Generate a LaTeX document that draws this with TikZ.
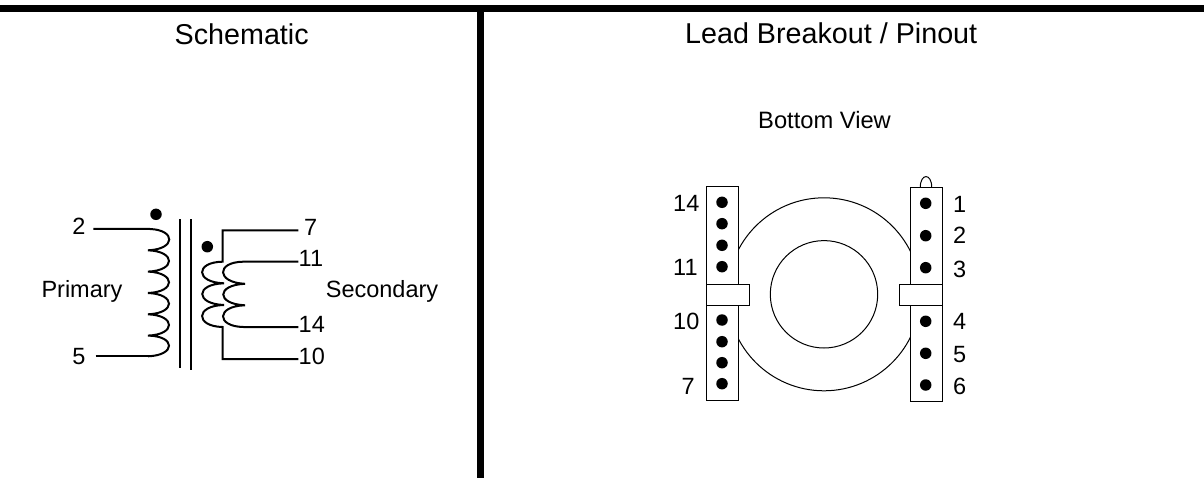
\documentclass[tikz,border=0pt]{standalone}
\usepackage{fontspec}
\setmainfont{Liberation Sans}
\tikzset{
  lbl/.style={inner sep=0pt,font=\fontsize{23.5}{24}\selectfont,text height=16pt,text depth=0pt},
  ttl/.style={inner sep=0pt,anchor=base west,font=\fontsize{28.7}{30}\selectfont},
  wire/.style={line width=2pt},
  thin line/.style={line width=1pt},
  blob/.style={circle,fill=black,draw=none,minimum size=11.5pt,inner sep=0pt},
  strip/.style={draw=black,line width=1pt,fill=white,inner sep=0pt},
}
\begin{document}
\begin{tikzpicture}[x=1pt,y=-1pt]
\useasboundingbox (0,0) rectangle (1204,478);
\fill[white] (0,0) rectangle (1204,478);
% frame
\coordinate (tl) at (0,8.6); \coordinate (tr) at (1204,8.6);
\coordinate (vt) at (480.8,8.6); \coordinate (vb) at (480.8,478);
\draw[line width=7.4pt] (tl) -- (tr);
\draw[line width=7pt] (vt) -- (vb);
% titles
\node[ttl] (t1) at (174.5,45) {Schematic};
\node[ttl] (t2) at (685,43.3) {Lead Breakout / Pinout};
\node[inner sep=0pt,anchor=base west,font=\fontsize{23.7}{24}\selectfont] (t3) at (758,128.3) {Bottom View};
% schematic labels
\node[lbl,anchor=center] (p2) at (79,227) {2};
\node[lbl] (p5) at (79,356) {5};
\node[lbl] (prim) at (82,290) {Primary};
\node[lbl] (sec) at (382,290) {Secondary};
\node[lbl,anchor=west] (s7) at (304,228) {7};
\node[lbl,anchor=west] (s11) at (298.5,258) {11};
\node[lbl,anchor=west] (s14) at (298.5,324) {14};
\node[lbl,anchor=west] (s10) at (298.5,356) {10};
\node[blob] (d1) at (156,214.3) {};
\node[blob] (d2) at (207.3,246.7) {};
% primary
\coordinate (a0) at (93.3,229);
\coordinate (a1) at (95.7,356);
\draw[wire] (a0) -- (150,229)
  \foreach \i/\yy in {0/229,1/250.3,2/271.7,3/293,4/314.3,5/335} {
    .. controls (176,\yy+1) and (176,\yy+20.3) .. (148,\yy+21.3)
  };
\draw[wire] (a1) -- (150,356);
% core
\draw[wire] (180,219.3) -- (180,368.3);
\draw[wire] (191.3,219.3) -- (191.3,370);
% secondary
\coordinate (e7) at (298.3,230.3);
\coordinate (e11) at (298.3,261.7);
\coordinate (e14) at (298.3,327);
\coordinate (e10) at (298.3,359);
\draw[wire] (e7) -- (222.7,230.3) -- (222.7,261.7)
  .. controls (195,262) and (195,282.5) .. (224,283.3)
  .. controls (195,284) and (195,304) .. (224,305)
  .. controls (195,305.5) and (195,326.5) .. (222.7,327)
  -- (222.7,359) -- (e10);
\draw[wire] (e11) -- (243.3,261.7)
  .. controls (216,262) and (216,282.5) .. (245,283.8)
  .. controls (216,285) and (216,304) .. (245,305.3)
  .. controls (216,306) and (216,326.5) .. (243.3,327) -- (e14);
% toroid
\coordinate (c) at (824,294.3);
\draw[thin line] (c) circle[radius=96.5];
\draw[thin line] (c) circle[radius=53.7];
\draw[thin line] (920.3,187.3) .. controls (920.3,173) and (931.7,173) .. (931.7,187.3);
\node[strip,minimum width=32.3pt,minimum height=214.7pt] (ls) at (722.2,293.4) {};
\node[strip,minimum width=32pt,minimum height=214.4pt] (rs) at (926,294.5) {};
\node[strip,minimum width=43pt,minimum height=21.3pt] (lt) at (727.5,294.7) {};
\node[strip,minimum width=43pt,minimum height=21.3pt] (rt) at (920.5,294.7) {};
\foreach \n/\yy in {a/202.3,b/223.7,c/245.3,d/266.7,e/320,f/341.7,g/362.7,h/383.7}
  \node[blob] (l\n) at (722,\yy) {};
\foreach \n/\yy in {a/203.3,b/235.7,c/267.7,d/321.3,e/353.3,f/385}
  \node[blob] (r\n) at (925.7,\yy) {};
\foreach \t/\yy in {14/204,11/268,10/321}
  \node[lbl,anchor=west] (n\t) at (673,\yy) {\t};
\node[lbl,anchor=east] (n7) at (695,386) {7};
\foreach \t/\yy in {1/205,2/236,3/269,4/321,5/354,6/386}
  \node[lbl,anchor=west] (m\t) at (953,\yy) {\t};
\end{tikzpicture}
\end{document}
